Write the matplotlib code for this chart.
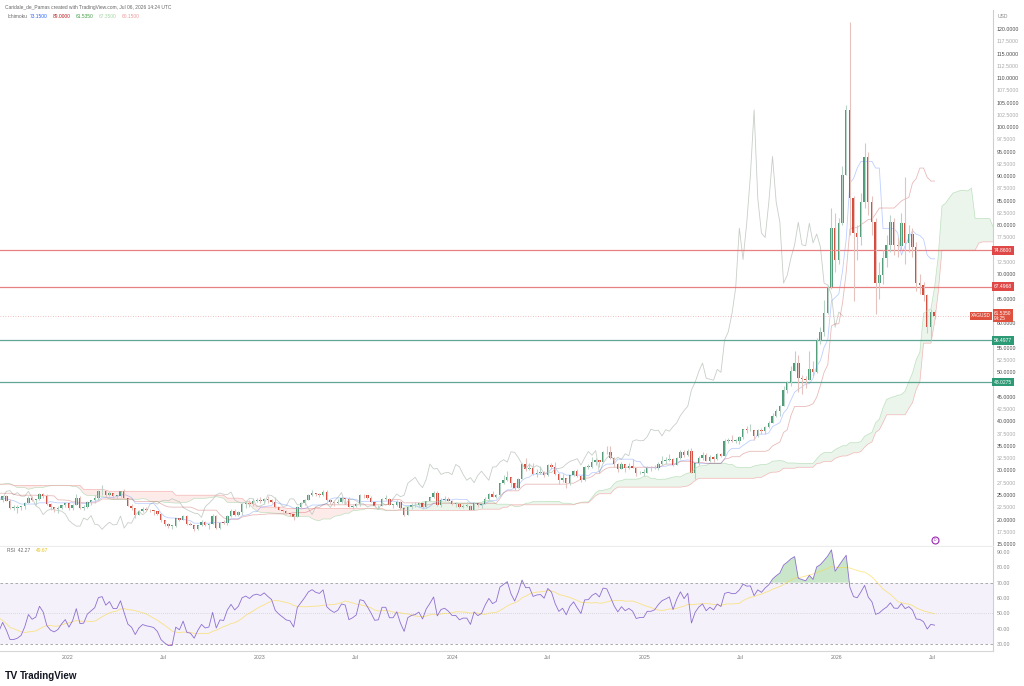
## Weekly XAGUSD candles with Ichimoku cloud, key levels and RSI pane

import matplotlib
matplotlib.use('Agg')
import matplotlib.pyplot as plt
import matplotlib.dates as mdates
import matplotlib.transforms as mtransforms
import numpy as np
import pandas as pd

plt.rcParams['font.family'] = ['Liberation Sans', 'DejaVu Sans']

## weekly bars, one value per week starting 2021-01-04 (first 35 weeks are only history for the indicators)
firstWeek = '2021-01-04'
firstOpen = 26.40
closeList = [
	25.40, 25.35, 25.55, 26.90, 27.00, 27.35, 27.25, 26.65, 25.20, 26.20, 26.20, 25.05, 24.95, 25.25, 25.90, 26.05, 25.90, 27.45,
	27.40, 27.90, 27.95, 27.95, 28.00, 25.85, 26.05, 26.50, 26.10, 25.75, 25.25, 25.55, 24.40, 23.75, 23.05, 24.00, 24.70,
	23.80, 22.40, 22.40, 22.50, 22.70, 23.35, 24.45, 23.95, 24.15, 25.25, 24.70, 23.10, 22.45, 22.20, 22.40, 22.90, 23.30,
	22.40, 23.00, 24.30, 22.40, 22.45, 23.50, 23.90, 24.30, 25.75, 25.90, 25.00, 25.50, 24.75, 24.75, 25.75, 24.40, 22.80, 22.30,
	21.00, 21.75, 22.15, 21.95, 21.85, 21.70, 21.15, 19.80, 19.15, 18.65, 18.65, 20.30, 19.90, 20.80, 19.05, 18.90, 18.00, 18.80,
	19.45, 18.90, 19.00, 20.70, 18.25, 19.35, 19.25, 20.80, 21.75, 20.95, 21.55, 23.10, 23.45, 23.15, 23.75, 23.95,
	23.80, 24.25, 23.90, 23.60, 22.45, 22.00, 21.65, 21.30, 21.20, 20.45, 22.60, 23.30, 24.05, 25.00, 25.40, 25.15, 25.05, 25.60,
	23.95, 23.55, 23.30, 23.55, 24.30, 24.20, 22.60, 22.80, 23.10, 25.00, 24.90, 24.30, 23.60, 22.70, 22.75, 24.20, 24.20, 23.00,
	23.00, 23.65, 22.25, 21.00, 22.60, 22.90, 23.00, 23.30, 22.45, 23.70, 24.50, 25.50, 23.00, 24.00, 24.20, 23.80,
	23.20, 23.20, 22.60, 22.80, 22.80, 22.00, 23.40, 22.95, 23.20, 24.25, 25.20, 24.65, 24.95, 27.40, 28.00, 28.60, 27.35, 26.50,
	28.20, 31.30, 30.30, 30.40, 29.20, 29.50, 29.60, 29.15, 31.20, 30.75, 29.20, 28.00, 28.55, 27.50, 29.00, 29.85, 28.90, 28.00,
	30.70, 30.75, 31.70, 32.20, 31.70, 33.80, 33.70, 32.60, 31.30, 30.30, 31.25, 30.60, 31.00, 30.60, 29.40, 29.55, 29.55,
	30.40, 30.40, 30.60, 31.30, 31.85, 32.10, 32.40, 31.10, 32.55, 33.85, 33.10, 34.05, 29.50, 31.45, 32.55, 33.20, 32.00, 32.70,
	32.25, 33.40, 33.00, 35.95, 36.25, 36.05, 36.10, 36.90, 38.40, 38.15, 38.20, 37.05, 38.30, 38.00, 38.95, 39.70, 41.20, 42.20,
	43.10, 46.40, 48.00, 50.20, 51.90, 48.80, 48.60, 48.40, 50.60, 50.00, 56.60, 58.30, 62.00, 67.20, 79.40, 73.00,
	80.40, 90.20, 103.50, 85.50, 78.40, 77.50, 84.70, 94.00, 84.70, 80.60, 68.20, 69.80, 73.30, 76.00, 80.60, 76.00, 75.80, 80.40,
	76.40, 78.20, 75.60, 68.20, 67.80, 65.80, 59.20, 62.30, 61.535]
highList = [
	27.90, 25.80, 26.00, 27.10, 30.10, 27.80, 27.90, 28.30, 26.90, 26.40, 26.60, 26.30, 25.20, 25.50, 26.10, 26.60, 26.30, 27.60,
	28.50, 28.20, 28.30, 28.30, 28.30, 28.20, 26.30, 26.60, 26.50, 26.40, 25.80, 25.80, 25.60, 24.50, 23.90, 24.10, 24.85,
	24.90, 24.10, 23.00, 22.90, 22.80, 23.50, 24.80, 24.80, 24.20, 25.40, 25.40, 25.10, 23.30, 22.50, 22.80, 23.00, 23.40,
	23.40, 23.20, 25.20, 24.70, 22.90, 23.70, 24.00, 25.00, 26.00, 26.95, 26.00, 25.80, 25.40, 24.90, 25.90, 26.20, 24.40, 23.10,
	22.40, 21.90, 22.50, 22.50, 22.20, 22.00, 21.70, 21.40, 19.90, 19.20, 18.90, 20.40, 20.40, 20.90, 20.90, 19.40, 18.90, 18.90,
	19.90, 19.70, 19.30, 21.20, 20.90, 19.50, 19.80, 21.00, 22.20, 22.20, 21.70, 23.40, 23.70, 24.00, 24.30, 24.30,
	24.50, 24.30, 24.70, 24.20, 24.60, 22.50, 22.20, 21.90, 21.40, 21.20, 22.70, 23.50, 24.20, 25.20, 26.00, 25.50, 25.40, 26.10,
	26.10, 24.10, 23.70, 24.10, 24.50, 24.40, 24.60, 23.00, 23.30, 25.10, 25.30, 25.00, 24.80, 23.60, 22.90, 24.30, 25.00, 24.40,
	23.20, 23.90, 23.80, 22.10, 22.70, 23.40, 23.50, 23.60, 23.40, 23.80, 24.60, 25.90, 25.90, 24.40, 24.80, 24.60,
	23.90, 23.50, 23.30, 23.20, 23.50, 22.90, 23.50, 23.40, 23.30, 24.60, 25.50, 25.80, 25.10, 27.50, 29.00, 29.80, 28.70, 27.00,
	28.50, 31.50, 32.50, 31.50, 31.50, 30.20, 31.00, 29.80, 31.40, 31.50, 31.70, 29.50, 29.30, 28.50, 29.10, 30.00, 30.20, 29.00,
	31.00, 31.40, 32.70, 32.50, 32.20, 34.00, 34.90, 34.90, 32.80, 31.60, 31.70, 31.00, 31.60, 32.30, 30.70, 29.90, 30.20,
	30.90, 31.00, 31.20, 31.70, 32.90, 32.80, 33.40, 32.50, 32.70, 34.10, 34.10, 34.30, 34.60, 31.60, 32.90, 33.70, 33.50, 33.10,
	33.00, 33.60, 33.60, 36.40, 36.60, 37.30, 36.50, 37.00, 38.50, 39.10, 39.50, 38.30, 38.40, 38.60, 39.00, 40.00, 41.70, 42.50,
	43.30, 47.20, 48.30, 51.20, 54.40, 53.50, 49.40, 49.30, 54.40, 52.40, 57.00, 59.30, 64.70, 67.80, 83.60, 82.50,
	81.50, 92.00, 104.50, 121.50, 86.00, 80.00, 86.50, 96.80, 95.00, 86.00, 81.50, 72.50, 75.00, 78.00, 82.00, 81.50, 77.50, 82.50,
	89.80, 80.00, 79.50, 76.50, 70.00, 68.50, 66.00, 63.00, 62.80]
lowList = [
	24.40, 24.30, 25.00, 25.10, 26.40, 26.60, 26.70, 26.20, 24.90, 25.00, 25.80, 24.70, 23.80, 24.60, 25.10, 25.70, 25.70, 25.80,
	26.90, 27.20, 27.60, 27.10, 27.40, 25.50, 25.50, 25.80, 25.70, 25.50, 24.80, 24.80, 24.20, 22.20, 22.90, 22.80, 23.60,
	23.70, 22.20, 21.90, 21.40, 22.00, 22.20, 23.30, 23.70, 23.00, 23.90, 24.40, 22.90, 21.90, 21.60, 21.40, 22.20, 22.60,
	22.00, 22.00, 22.90, 22.20, 22.00, 22.40, 22.90, 23.30, 24.00, 25.00, 24.60, 24.80, 24.40, 24.10, 24.60, 24.30, 22.70, 22.00,
	20.40, 20.90, 21.60, 21.80, 21.50, 20.90, 20.90, 19.50, 18.70, 18.20, 18.10, 18.40, 19.60, 19.80, 18.90, 18.80, 17.60, 17.80,
	18.60, 18.60, 18.10, 19.00, 18.10, 18.10, 19.00, 18.90, 20.50, 20.70, 20.80, 21.00, 22.40, 22.60, 22.80, 23.60,
	23.40, 23.20, 23.40, 23.30, 22.30, 21.90, 21.50, 21.20, 20.70, 19.90, 20.50, 22.20, 22.90, 23.90, 24.80, 24.80, 24.50, 24.70,
	23.80, 23.20, 22.70, 23.20, 23.40, 23.20, 22.50, 22.10, 22.50, 22.80, 24.40, 24.10, 23.50, 22.60, 22.20, 22.80, 24.00, 22.90,
	22.30, 22.80, 21.90, 20.70, 21.10, 22.20, 22.60, 22.50, 22.10, 22.40, 23.70, 24.30, 22.80, 22.50, 23.80, 23.70,
	22.90, 22.60, 22.30, 22.30, 22.60, 21.90, 21.90, 22.60, 22.30, 23.10, 24.00, 24.50, 24.40, 24.80, 27.30, 27.80, 26.70, 26.00,
	26.50, 28.20, 29.90, 30.00, 29.00, 28.60, 29.20, 28.60, 28.80, 30.30, 29.00, 27.30, 27.70, 26.40, 27.00, 28.80, 28.70, 27.70,
	27.80, 30.20, 30.60, 31.20, 30.80, 31.50, 33.30, 32.30, 30.80, 29.70, 30.20, 29.70, 30.30, 30.40, 28.80, 29.20, 28.80,
	29.50, 29.80, 30.20, 30.00, 31.10, 31.30, 32.00, 30.90, 31.20, 32.30, 32.70, 32.90, 29.40, 28.30, 31.20, 32.20, 31.90, 31.70,
	31.70, 32.10, 32.80, 32.90, 35.50, 35.70, 35.50, 35.30, 36.50, 37.60, 38.00, 36.20, 36.90, 37.50, 37.50, 38.70, 40.30, 40.80,
	41.00, 43.10, 45.80, 47.20, 50.70, 46.00, 45.50, 46.90, 48.40, 49.20, 49.80, 55.70, 57.50, 61.80, 67.00, 70.50,
	72.00, 80.00, 92.00, 78.00, 64.50, 73.00, 76.00, 83.50, 82.00, 78.00, 61.80, 65.00, 68.00, 71.50, 74.50, 74.00, 73.50, 75.00,
	72.00, 74.50, 73.50, 66.50, 66.00, 64.50, 58.00, 56.50, 60.80]

## horizontal levels drawn on the chart
levelList = [74.86, 67.4968, 56.4977, 48.0275]
levelKinds = ['resistance', 'resistance', 'support', 'support']

## time axis labels
timeTicks = ['2022-01-01', '2022-07-01', '2023-01-01', '2023-07-01', '2024-01-01', '2024-07-01',
	'2025-01-01', '2025-07-01', '2026-01-01', '2026-07-01']
timeTickLabels = ['2022', 'Jul', '2023', 'Jul', '2024', 'Jul', '2025', 'Jul', '2026', 'Jul']

GREEN = '#4f9b78'
RED = '#d44b3c'


def computeIchimoku(highS, lowS):
	tenkan = (highS.rolling(9, min_periods=1).max() + lowS.rolling(9, min_periods=1).min()) / 2
	kijun = (highS.rolling(26, min_periods=1).max() + lowS.rolling(26, min_periods=1).min()) / 2
	spanA = (tenkan + kijun) / 2
	spanB = (highS.rolling(52, min_periods=1).max() + lowS.rolling(52, min_periods=1).min()) / 2
	return tenkan, kijun, spanA, spanB


def computeRSI(closeS, length=14):
	delta = closeS.diff().fillna(0)
	gain = delta.clip(lower=0).ewm(alpha=1 / length, adjust=False).mean()
	loss = (-delta.clip(upper=0)).ewm(alpha=1 / length, adjust=False).mean()
	return 100 - 100 / (1 + gain / loss)


def drawChart():
	closeS = pd.Series(closeList)
	highS = pd.Series(highList)
	lowS = pd.Series(lowList)
	openArr = np.concatenate([[firstOpen], closeS.values[:-1]])
	closeArr = closeS.values
	highArr = np.maximum(highS.values, np.maximum(openArr, closeArr))
	lowArr = np.minimum(lowS.values, np.minimum(openArr, closeArr))
	n = len(closeArr)
	shift = 25

	allDates = pd.date_range(firstWeek, periods=n + shift, freq='7D')
	xAll = mdates.date2num(allDates.to_pydatetime())
	x = xAll[:n]

	tenkan, kijun, spanA, spanB = computeIchimoku(pd.Series(highArr), pd.Series(lowArr))
	spanAPlot = np.concatenate([np.full(shift, np.nan), spanA.values])
	spanBPlot = np.concatenate([np.full(shift, np.nan), spanB.values])
	rsi = computeRSI(closeS)
	rsiMA = rsi.rolling(14).mean()

	fig = plt.figure(figsize=(10.24, 6.86), dpi=100)
	fig.patch.set_facecolor('white')
	W, H = 1024.0, 686.0
	axRight = 993 / W
	axPrice = fig.add_axes([0, 1 - 546 / H, axRight, 536 / H])
	axRsi = fig.add_axes([0, 1 - 651 / H, axRight, 104 / H], sharex=axPrice)

	xLeft = mdates.date2num(pd.Timestamp('2021-08-25'))
	xRightLim = mdates.date2num(pd.Timestamp('2026-10-25'))

	## ---------------- price pane ----------------
	## cloud
	axPrice.fill_between(xAll, spanAPlot, spanBPlot, where=spanAPlot >= spanBPlot, interpolate=True,
		color='#43a047', alpha=0.10, lw=0)
	axPrice.fill_between(xAll, spanAPlot, spanBPlot, where=spanAPlot < spanBPlot, interpolate=True,
		color='#f44336', alpha=0.10, lw=0)
	axPrice.plot(xAll, spanAPlot, color='#a5d6a7', lw=0.5, alpha=0.7)
	axPrice.plot(xAll, spanBPlot, color='#ef9a9a', lw=0.5, alpha=0.7)
	## lagging span
	axPrice.plot(x[:n - shift], closeArr[shift:], color='#b9c2b9', lw=0.6, alpha=0.8)
	## conversion / base line
	axPrice.plot(x, tenkan.values, color='#2962ff', lw=0.6, alpha=0.3)
	axPrice.plot(x, kijun.values, color='#b71c1c', lw=0.6, alpha=0.3)

	## levels
	for level, kind in zip(levelList, levelKinds):
		lineColor = '#e57373' if kind == 'resistance' else '#4e9e88'
		axPrice.axhline(level, color=lineColor, lw=0.9, alpha=0.9)

	## candles
	isUp = closeArr >= openArr
	bodyColors = np.where(isUp, GREEN, RED)
	wickColors = np.where(isUp, '#b9d3c6', '#e4c2be')
	axPrice.vlines(x, lowArr, highArr, colors=wickColors, lw=0.8)
	bodyBottom = np.minimum(openArr, closeArr)
	bodyHeight = np.maximum(np.abs(closeArr - openArr), 0.15)
	axPrice.bar(x, bodyHeight, bottom=bodyBottom, width=4.6, color=bodyColors, lw=0)

	## last price line
	lastClose = closeArr[-1]
	axPrice.axhline(lastClose, color=RED, lw=0.6, ls=(0, (1, 2)), alpha=0.45)

	## event marker
	axPrice.plot(x[-1], 15.8, marker='o', ms=5, mfc='white', mec='#9c27b0', mew=0.8)
	axPrice.text(x[-1], 15.8, 'D', color='#9c27b0', fontsize=2.5, ha='center', va='center')

	axPrice.set_xlim(xLeft, xRightLim)
	axPrice.set_ylim(120 - (546 - 29) / 4.905, 120 + (29 - 10) / 4.905)
	## price scale labels, those hidden behind a tag are left out
	tagValues = levelList + [lastClose]
	yTicks = [v for v in np.arange(15, 120.01, 2.5) if min(abs(v - t) for t in tagValues) > 1.3]
	axPrice.yaxis.tick_right()
	axPrice.set_yticks(yTicks)
	axPrice.set_yticklabels(['%.4f' % v for v in yTicks])
	axPrice.tick_params(axis='y', length=0, pad=2.5, labelsize=3.8)
	for label, v in zip(axPrice.get_yticklabels(), yTicks):
		label.set_color('#4a4a4a' if v % 5 == 0 else '#a8a8a8')
	axPrice.tick_params(axis='x', length=0, labelbottom=False)
	for side in ['left', 'top']:
		axPrice.spines[side].set_visible(False)
	axPrice.spines['right'].set_color('#cfcfcf')
	axPrice.spines['right'].set_linewidth(0.8)
	axPrice.spines['bottom'].set_color('#ececec')
	axPrice.spines['bottom'].set_linewidth(0.8)

	## tags on the price scale
	tagTrans = mtransforms.blended_transform_factory(axPrice.transAxes, axPrice.transData)
	for level, kind in zip(levelList, levelKinds):
		tagColor = '#e04848' if kind == 'resistance' else '#2c9a74'
		axPrice.text(1.001, level, '%.4f' % level, transform=tagTrans, ha='left', va='center',
			fontsize=3.6, color='white', clip_on=False,
			bbox=dict(boxstyle='square,pad=0.35', fc=tagColor, ec='none'))
	axPrice.text(1.001, lastClose, '%.4f\n04:25' % lastClose, transform=tagTrans, ha='left', va='center',
		fontsize=3.4, color='white', clip_on=False, linespacing=1.1,
		bbox=dict(boxstyle='square,pad=0.3', fc='#e0503f', ec='none'))
	axPrice.text(0.998, lastClose, 'XAGUSD', transform=tagTrans, ha='right', va='center',
		fontsize=3.4, color='white', clip_on=False,
		bbox=dict(boxstyle='square,pad=0.3', fc='#e0503f', ec='none'))

	## ---------------- RSI pane ----------------
	axRsi.axhspan(30, 70, color='#7e57c2', alpha=0.08, lw=0)
	axRsi.axhline(70, color='#9e9e9e', lw=0.6, ls=(0, (3, 3)))
	axRsi.axhline(30, color='#9e9e9e', lw=0.6, ls=(0, (3, 3)))
	axRsi.axhline(50, color='#c0c0c0', lw=0.5, ls=(0, (1, 2)))
	rsiArr = rsi.values
	axRsi.fill_between(x, 70, rsiArr, where=rsiArr > 70, interpolate=True, color='#4caf50', alpha=0.3, lw=0)
	axRsi.fill_between(x, 30, rsiArr, where=rsiArr < 30, interpolate=True, color='#f44336', alpha=0.3, lw=0)
	axRsi.plot(x, rsiMA.values, color='#fdd835', lw=0.6, alpha=0.6)
	axRsi.plot(x, rsiArr, color='#8e6fd0', lw=0.6)

	axRsi.set_ylim(30 - (651 - 644) / 1.5333, 90 + (552 - 547) / 1.5333)
	rsiTicks = np.arange(30, 91, 10)
	axRsi.yaxis.tick_right()
	axRsi.set_yticks(rsiTicks)
	axRsi.set_yticklabels(['%.2f' % v for v in rsiTicks])
	axRsi.tick_params(axis='y', length=0, pad=2.5, labelsize=3.8, labelcolor='#8a8a8a')
	axRsi.set_xticks(mdates.date2num(pd.to_datetime(timeTicks).to_pydatetime()))
	axRsi.set_xticklabels(timeTickLabels)
	axRsi.tick_params(axis='x', length=0, pad=3, labelsize=3.8, labelcolor='#7a7a7a')
	for side in ['left', 'top']:
		axRsi.spines[side].set_visible(False)
	axRsi.spines['right'].set_color('#cfcfcf')
	axRsi.spines['right'].set_linewidth(0.8)
	axRsi.spines['bottom'].set_color('#d6d6d6')
	axRsi.spines['bottom'].set_linewidth(0.8)

	## ---------------- header / footer texts ----------------
	fig.text(5 / W, 1 - 7 / H, 'Caridale_de_Pamas created with TradingView.com, Jul 06, 2026 14:24 UTC',
		fontsize=3.5, color='#666666', va='center')
	fig.text(8 / W, 1 - 17 / H, 'Ichimoku', fontsize=3.5, color='#666666', va='center')
	headerValues = [tenkan.values[-1], kijun.values[-1], lastClose, spanA.values[-1 - shift], spanB.values[-1 - shift]]
	headerColors = ['#2962ff', '#b71c1c', '#43a047', '#a5d6a7', '#ef9a9a']
	headerX = [30, 53, 76, 99, 122]
	for hx, hv, hc in zip(headerX, headerValues, headerColors):
		fig.text(hx / W, 1 - 17 / H, '%.4f' % hv, fontsize=3.5, color=hc, va='center')
	fig.text(998 / W, 1 - 17 / H, 'USD', fontsize=3.6, color='#888888', va='center')

	fig.text(7 / W, 1 - 551 / H, 'RSI  %.2f' % rsiArr[-1], fontsize=3.5, color='#666666', va='center')
	fig.text(36 / W, 1 - 551 / H, '%.2f' % rsiMA.values[-1], fontsize=3.5, color='#e6c21a', va='center')

	fig.text(5 / W, 1 - 676 / H, 'TV', fontsize=7.5, fontweight='bold', color='#131722', va='center')
	fig.text(20 / W, 1 - 676 / H, 'TradingView', fontsize=7, fontweight='bold', color='#131722', va='center')

	fig.savefig('out.png', dpi=100, facecolor='white')


if __name__ == "__main__":
	drawChart()
